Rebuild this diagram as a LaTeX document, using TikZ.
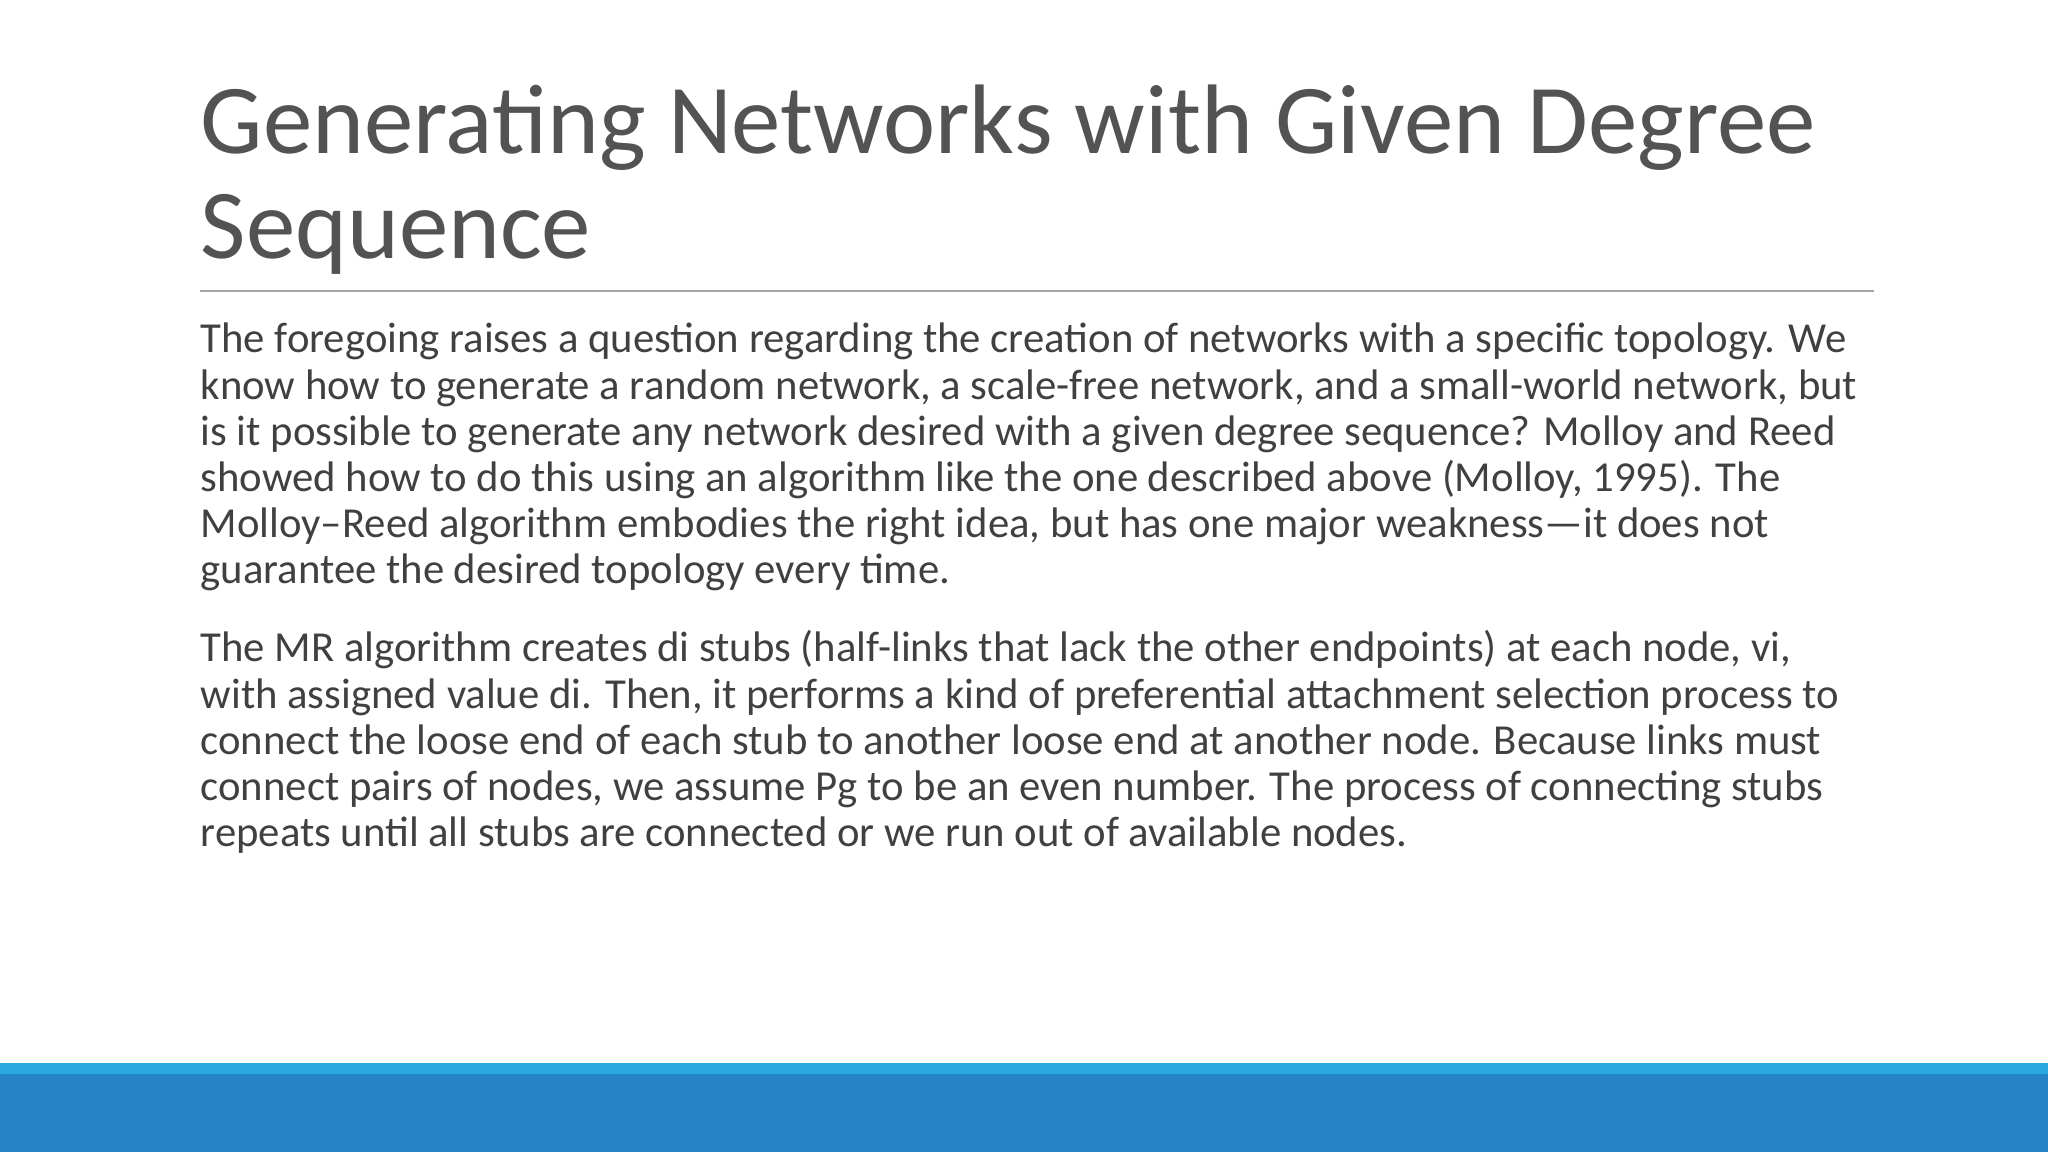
\documentclass[tikz,border=0pt]{standalone}
\usepackage{fontspec}
\setmainfont{Carlito}
\definecolor{txt}{HTML}{404040}
\definecolor{lightblue}{HTML}{29A8E0}
\definecolor{darkblue}{HTML}{2683C6}
\begin{document}
\begin{tikzpicture}[x=0.01cm,y=-0.01cm,
  ttl/.style={anchor=base west,inner sep=0,text=txt!90,font=\fontsize{28.1}{30}\selectfont},
  body/.style={anchor=base west,inner sep=0,text=txt,font=\fontsize{12.15}{13}\selectfont}]
\useasboundingbox (0,0) rectangle (2048,1152);
\fill[lightblue] (0,1063) rectangle (2048,1074);
\fill[darkblue] (0,1074) rectangle (2048,1152);
\node[ttl] (t1) at (200,154) {Generating Networks with Given Degree};
\node[ttl] (t2) at (200,259) {Sequence};
\draw[gray!70,line width=0.6pt] (200,291) -- (1874,291);
\foreach \i/\s in {0/{The foregoing raises a ques{}tion regarding the crea{}tion of networks with a specific topology. We},
 1/{know how to generate a random network, a scale-free network, and a small-world network, but},
 2/{is it possible to generate any network desired with a given degree sequence? Molloy and Reed},
 3/{showed how to do this using an algorithm like the one described above (Molloy, 1995). The},
 4/{Molloy–Reed algorithm embodies the right idea, but has one major weakness—it does not},
 5/{guarantee the desired topology every {}time.}}
  \node[body] (p\i) at (200,{353+46.1*\i}) {\s};
\foreach \i/\s in {0/{The MR algorithm creates di stubs (half-links that lack the other endpoints) at each node, vi,},
 1/{with assigned value di. Then, it performs a kind of preferen{}tial at{}tachment selec{}tion process to},
 2/{connect the loose end of each stub to another loose end at another node. Because links must},
 3/{connect pairs of nodes, we assume Pg to be an even number. The process of connec{}ting stubs},
 4/{repeats un{}til all stubs are connected or we run out of available nodes.}}
  \node[body] (q\i) at (200,{662+46.1*\i}) {\s};
\end{tikzpicture}
\end{document}
